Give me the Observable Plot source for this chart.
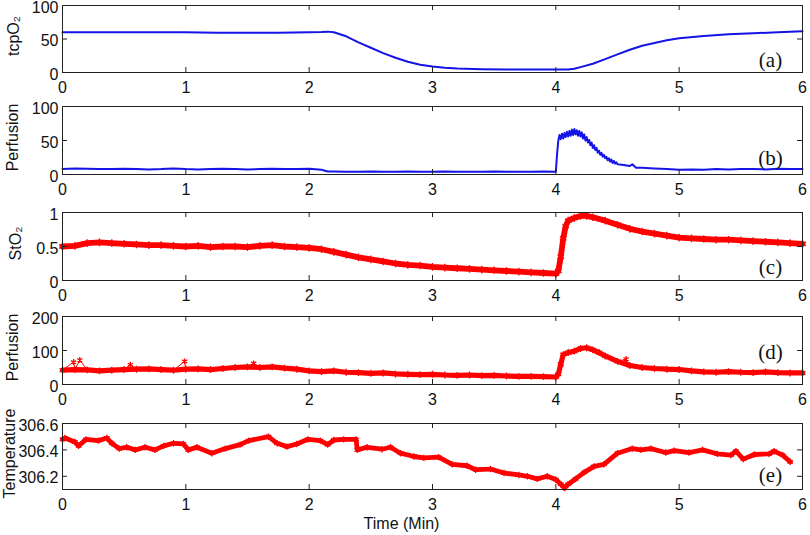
<!DOCTYPE html>
<html><head><meta charset="utf-8">
<script src="https://cdn.jsdelivr.net/npm/d3@7"></script>
<script src="https://cdn.jsdelivr.net/npm/@observablehq/plot@0.6"></script>
<style>
body{margin:0;background:#fff;}
#chart{position:relative;width:810px;height:535px;overflow:hidden;background:#fff;}
#chart svg{position:absolute;left:0;}
</style></head><body><div id="chart"></div>
<script>
// ---- tick labels ----
const xTicks = [0, 1, 2, 3, 4, 5, 6];
const tcpO2Ticks = [0, 50, 100];
const perfBlueTicks = [0, 50, 100];
const stO2Ticks = [0, 0.5, 1];
const perfRedTicks = [0, 100, 200];
const tempTicks = [306.2, 306.4, 306.6];

// ---- (a) tcpO2 ----
const tcpO2T = [0,0.25,0.5,0.75,1,1.25,1.5,1.75,2,2.1,2.15,2.2,2.3,2.4,2.5,2.6,2.7,2.8,2.9,3.0,3.1,3.2,3.4,3.6,3.8,4.0,4.1,4.15,4.2,4.3,4.4,4.5,4.6,4.7,4.8,4.9,5.0,5.2,5.4,5.6,5.8,6.0];
const tcpO2V = [60,60,60,60,60,59.5,59.5,59.5,60,60.5,61,60,54,45,37,29,22,16,11.5,9,7,6,5,4.5,4.5,4.5,4.5,5.5,8,13,20,27,34,40,44,48,51,54.5,57,58.5,60,61.5];

// ---- (b) Perfusion (blue) ----
const perfBT = [0,0.1,0.2,0.3,0.4,0.5,0.6,0.7,0.8,0.9,1.0,1.1,1.2,1.3,1.4,1.5,1.6,1.7,1.8,1.9,2.0,2.1,
  2.15,2.2,2.3,2.4,2.5,2.6,2.7,2.8,2.9,3.0,3.1,3.2,3.3,3.4,3.5,3.6,3.7,3.8,3.9,4.0,
  4.01,4.02,4.03,4.04,4.05,4.06,4.07,4.08,4.09,4.10,4.11,4.12,4.13,4.14,4.15,4.16,4.17,4.18,4.19,4.20,
  4.21,4.22,4.23,4.24,4.25,4.26,4.27,4.28,4.29,4.30,4.31,4.32,4.33,4.34,4.35,4.36,4.37,4.38,4.39,4.40,
  4.41,4.42,4.43,4.44,4.45,4.46,4.47,4.48,4.49,4.50,
  4.55,4.60,4.62,4.65,4.70,4.80,4.90,5.0,5.1,5.2,5.3,5.4,5.5,5.6,5.7,5.8,5.9,6.0];
const perfBV = [8,9,8.5,8,8,8.5,8,7.5,8,9,8,7.5,8,8.5,8,7.5,8,8.5,8,8,8.5,7,
  4.5,4.5,4,4,4.5,4,4,4.5,4,4,4.5,4,4,4,4.5,4,4,4,4.5,4,
  30,50,58,52,60,53,61,55,63,56,64,57,66,58,67,59,65,57,64,56,
  62,53,59,50,55,47,51,43,47,39,43,36,39,32,35,29,32,26,29,24,
  26,21,24,19,22,17,20,16,18,15,
  14,12.5,15,10,10,9,8,7,7.5,7,8,7.5,8,8,7.5,8.5,8,8];

// ---- (c) StO2 ----
const stO2T = [0,0.1,0.2,0.3,0.4,0.5,0.6,0.7,0.8,0.9,1.0,1.1,1.2,1.3,1.4,1.5,1.6,1.7,1.8,1.9,2.0,2.1,2.2,2.3,2.4,2.5,2.6,2.7,2.8,2.9,3.0,3.1,3.2,3.3,3.4,3.5,3.6,3.7,3.8,3.9,4.0,
  4.02,4.04,4.06,4.08,4.1,4.15,4.2,4.25,4.3,
  4.4,4.5,4.6,4.7,4.8,4.9,5.0,5.1,5.2,5.3,5.4,5.5,5.6,5.7,5.8,5.9,6.0];
const stO2V = [0.50,0.51,0.55,0.56,0.55,0.54,0.53,0.52,0.52,0.51,0.50,0.51,0.49,0.50,0.50,0.49,0.51,0.52,0.50,0.49,0.48,0.46,0.42,0.38,0.34,0.31,0.28,0.25,0.23,0.22,0.20,0.19,0.18,0.17,0.16,0.15,0.14,0.13,0.12,0.11,0.10,
  0.14,0.35,0.62,0.80,0.88,0.92,0.95,0.95,0.93,
  0.88,0.82,0.76,0.72,0.69,0.66,0.63,0.62,0.61,0.60,0.60,0.59,0.58,0.57,0.56,0.55,0.54];

// ---- (d) Perfusion (red): base trace and isolated spikes ----
const perfRT = [0,0.1,0.2,0.3,0.4,0.5,0.6,0.7,0.8,0.9,1.0,1.1,1.2,1.3,1.4,1.5,1.6,1.7,1.8,1.9,2.0,2.1,2.2,2.3,2.4,2.5,2.6,2.7,2.8,2.9,3.0,3.1,3.2,3.3,3.4,3.5,3.6,3.7,3.8,3.9,4.0,4.02,4.04,4.06,4.1,4.15,4.2,4.25,4.3,4.35,4.4,4.5,4.6,4.7,4.8,4.9,5.0,5.1,5.2,5.3,5.4,5.5,5.6,5.7,5.8,5.9,6.0];
const perfRV = [42,44,43,40,42,44,45,46,44,42,45,46,44,47,50,52,50,52,48,45,40,38,40,36,35,33,34,31,30,29,30,28,27,28,26,27,25,24,24,23,22,30,60,88,94,98,106,108,102,94,84,68,56,50,47,45,44,40,37,36,38,36,35,37,35,34,34];
const perfRSpikeT = [0.09, 0.14, 0.55, 0.99, 1.55, 4.57];
const perfRSpikeV = [66, 72, 58, 68, 62, 75];

// ---- (e) Temperature ----
const tempT = [0,0.02,0.1,0.13,0.19,0.29,0.36,0.4,0.46,0.52,0.59,0.67,0.75,0.82,0.9,0.98,1.02,1.09,1.21,1.32,1.44,1.51,1.67,1.74,1.82,1.9,1.99,2.09,2.15,2.2,2.28,2.38,2.39,2.47,2.59,2.66,2.74,2.85,2.93,3.05,3.16,3.28,3.35,3.47,3.58,3.7,3.77,3.85,3.93,4.0,4.04,4.07,4.1,4.16,4.23,4.31,4.39,4.5,4.62,4.69,4.77,4.89,4.96,5.08,5.19,5.31,5.42,5.46,5.52,5.61,5.73,5.77,5.84,5.9];
const tempV = [306.48,306.49,306.46,306.43,306.48,306.47,306.49,306.45,306.41,306.42,306.40,306.42,306.40,306.43,306.45,306.445,306.40,306.42,306.375,306.41,306.44,306.47,306.50,306.45,306.425,306.445,306.48,306.47,306.44,306.475,306.48,306.48,306.40,306.42,306.405,306.42,306.375,306.35,306.34,306.345,306.29,306.28,306.25,306.255,306.225,306.21,306.20,306.18,306.20,306.175,306.14,306.11,306.14,306.18,306.23,306.275,306.29,306.375,306.41,306.40,306.41,306.38,306.395,306.38,306.40,306.37,306.36,306.39,306.33,306.365,306.37,306.39,306.36,306.31];

const BLUE = "#1414e6", RED = "#ff0000";
const toRows = (T, V) => T.map((t, i) => ({t, v: V[i]}));

const W = 810, ML = 62, MR = 8, MT = 8;
const frameW = W - ML - MR;
const sans = "'Liberation Sans', Arial, Helvetica, sans-serif";
const serif = "'Liberation Serif', 'Times New Roman', serif";

function panel(o) {
  const mb = o.mb ?? 28;
  const h = o.h;
  const rows = toRows(o.T, o.V);
  const spikes = o.spikeT ? toRows(o.spikeT, o.spikeV) : [];
  const all = rows.concat(spikes).sort((a, b) => a.t - b.t);
  const sw = o.sw ?? 2;
  const marks = [
    spikes.length ? Plot.line(all, {x: "t", y: "v", stroke: o.color, strokeWidth: 1}) : null,
    spikes.length ? Plot.dot(spikes, {x: "t", y: "v", symbol: "asterisk", r: 2.8, stroke: o.color, strokeWidth: 1.3}) : null,
    Plot.line(rows, {x: "t", y: "v", stroke: o.color, strokeWidth: sw, strokeLinejoin: "round", strokeLinecap: "round"}),
    o.red ? Plot.dot(rows, {x: "t", y: "v", symbol: "asterisk", r: sw * 0.62, stroke: o.color, strokeWidth: 1.3}) : null,
    Plot.frame({stroke: "#222", strokeWidth: 1}),
    Plot.tickX(xTicks, {x: d => d, insetTop: h - 5, stroke: "#222"}),
    Plot.tickX(xTicks, {x: d => d, insetBottom: h - 5, stroke: "#222"}),
    Plot.tickY(o.yTicks, {y: d => d, insetRight: frameW - 5, stroke: "#222"}),
    Plot.tickY(o.yTicks, {y: d => d, insetLeft: frameW - 5, stroke: "#222"}),
    Plot.axisX({ticks: xTicks, anchor: "bottom", tickSize: 0, tickPadding: 9, label: null, tickFormat: d => String(d), fill: "#111"}),
    Plot.axisY({ticks: o.yTicks, anchor: "left", tickSize: 0, tickPadding: 4, dy: 2, label: null, tickFormat: d => String(d), fill: "#111"}),
    Plot.text([o.yLabel], {text: d => d, frameAnchor: "left", rotate: -90, dx: o.labelDx, dy: -3, fontSize: 16, fontFamily: sans, textAnchor: "middle", lineAnchor: "middle", fill: "#111"}),
    Plot.text([o.letter], {text: d => d, frameAnchor: "bottom-right", dx: -32, dy: o.letterDy, fontSize: 21, fontFamily: serif, textAnchor: "middle", lineAnchor: "middle", fill: "#111"})
  ];
  if (o.xLabel) {
    marks.push(Plot.text([o.xLabel], {text: d => d, frameAnchor: "bottom", dx: -31, dy: 34, fontSize: 16, fontFamily: sans, textAnchor: "middle", lineAnchor: "middle", fill: "#111"}));
  }
  const svg = Plot.plot({
    width: W,
    height: MT + h + mb,
    marginLeft: ML, marginRight: MR, marginTop: MT, marginBottom: mb,
    x: {domain: [0, 6]},
    y: {domain: o.yDomain},
    style: {fontFamily: sans, fontSize: "16px", color: "#111", background: "transparent", overflow: "visible"},
    marks: marks.filter(Boolean)
  });
  svg.style.top = (o.top - MT) + "px";
  document.getElementById("chart").appendChild(svg);
}

panel({top: 5, h: 67, yDomain: [0, 100], yTicks: tcpO2Ticks, yLabel: "tcpO₂", labelDx: -49, letter: "(a)", letterDy: -12, T: tcpO2T, V: tcpO2V, color: BLUE, sw: 2});
panel({top: 106, h: 68, yDomain: [0, 100], yTicks: perfBlueTicks, yLabel: "Perfusion", labelDx: -50, letter: "(b)", letterDy: -16, T: perfBT, V: perfBV, color: BLUE, sw: 2});
panel({top: 212, h: 68, yDomain: [0, 1], yTicks: stO2Ticks, yLabel: "StO₂", labelDx: -47, letter: "(c)", letterDy: -13, T: stO2T, V: stO2V, color: RED, red: true, sw: 5.8});
panel({top: 316, h: 68, yDomain: [0, 200], yTicks: perfRedTicks, yLabel: "Perfusion", labelDx: -50, letter: "(d)", letterDy: -32, T: perfRT, V: perfRV, spikeT: perfRSpikeT, spikeV: perfRSpikeV, color: RED, red: true, sw: 5.2});
panel({top: 423, h: 66, mb: 46, yDomain: [306.1, 306.6], yTicks: tempTicks, yLabel: "Temperature", labelDx: -53, letter: "(e)", letterDy: -14, T: tempT, V: tempV, color: RED, red: true, sw: 4.8, xLabel: "Time (Min)"});
</script>
</body></html>
